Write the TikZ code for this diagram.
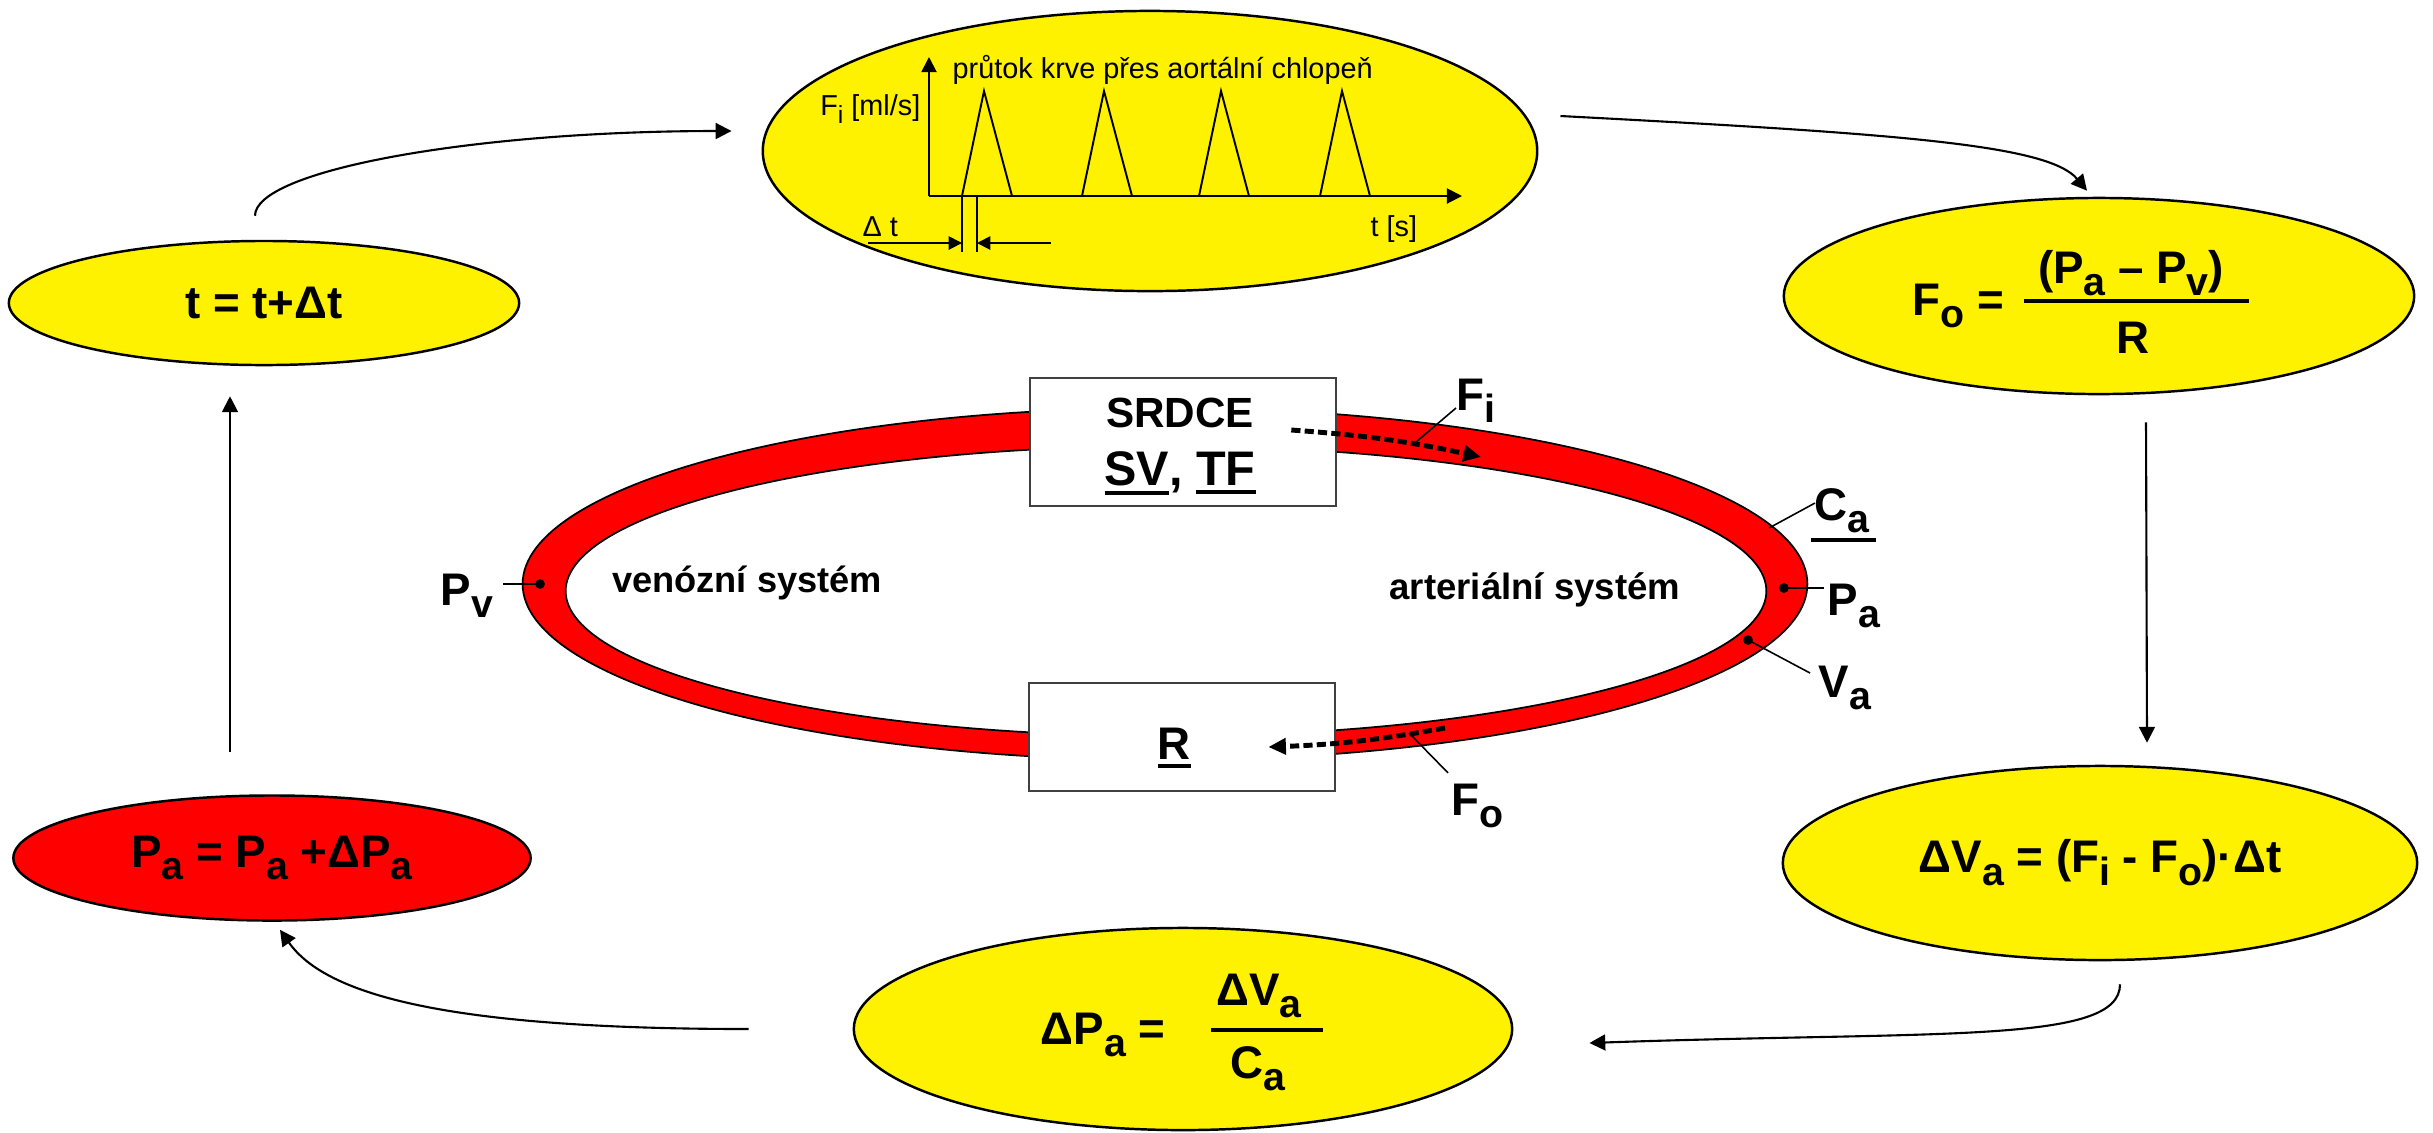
\documentclass[tikz,border=0pt]{standalone}
\usepackage{graphicx}
\usepackage{fontspec}
\setmainfont{Liberation Sans}
\usetikzlibrary{shapes.geometric,arrows.meta}

% dolni index a podtrzeni
\newcommand\sbx[1]{\raisebox{-0.28em}{\scalebox{0.86}{#1}}}
\newcommand\uln[1]{\vtop{\hbox{#1}\kern1.4pt\hrule height 1.1pt}}

\tikzset{
  bubble/.style={ellipse, draw, line width=0.7pt, fill=yellow, inner sep=0pt,
    font=\bfseries\fontsize{13}{15}\selectfont},
  hot/.style={bubble, fill=red},
  organ/.style={draw=black!75, line width=0.7pt, fill=white, inner sep=0pt},
  flow/.style={line width=0.6pt, -{Triangle[length=4.5pt,width=4.5pt]}},
  graphaxis/.style={line width=0.55pt, -{Triangle[length=4.3pt,width=4.3pt]}},
  stream/.style={line width=1.4pt, dash pattern=on 2.6pt off 1.2pt,
    -{Triangle[length=5pt,width=4.5pt]}},
  tag/.style={font=\bfseries\fontsize{13}{15}\selectfont, inner sep=0pt},
  plotfont/.style={font=\fontsize{8.2}{10}\selectfont, inner sep=0pt},
  fracrule/.style={line width=1pt},
  leader/.style={line width=0.45pt},
  probe/.style={circle, fill, inner sep=0pt, minimum size=2.8pt},
}

\begin{document}
\begin{tikzpicture}[x=0.01cm, y=0.01cm]
\useasboundingbox (0,0) rectangle (2433,-1132);

% vypocetni cyklus
\node[bubble, minimum width=5.1cm, minimum height=1.24cm] (tstep) at (264,-303) {t = t+Δt};
\node[bubble, minimum width=7.74cm, minimum height=2.8cm] (pulse) at (1150,-151) {};
\node[bubble, minimum width=6.3cm, minimum height=1.96cm] (outflow) at (2099,-296) {};
\node[bubble, minimum width=6.34cm, minimum height=1.94cm] (dvol) at (2100,-863)
  {ΔV\sbx{a} = (F\sbx{i} - F\sbx{o})·Δt};
\node[bubble, minimum width=6.58cm, minimum height=2.02cm] (dpress) at (1183,-1029) {};
\node[hot, minimum width=5.17cm, minimum height=1.25cm] (press) at (272,-858)
  {P\sbx{a} = P\sbx{a} +ΔP\sbx{a}};

% zlomky
\node[tag, anchor=base east] (folhs) at (2005,-315) {F\sbx{o} =};
\node[tag, anchor=base] (fonum) at (2131,-283) {(P\sbx{a} – P\sbx{v})};
\node[tag, anchor=base] (foden) at (2133,-353) {R};
\draw[fracrule] (2024,-301) -- (2249,-301);
\node[tag, anchor=base east] (dplhs) at (1166,-1044) {ΔP\sbx{a} =};
\node[tag, anchor=base] (dpnum) at (1259,-1005) {ΔV\sbx{a}};
\node[tag, anchor=base] (dpden) at (1258,-1078) {C\sbx{a}};
\draw[fracrule] (1211,-1030) -- (1323,-1030);

\draw[flow] ([shift={(-9,24)}]tstep.north) to[out=90, in=180, out distance=0.45cm, in distance=2.6cm] ([shift={(-30,20)}]pulse.west);
\draw[flow] ([shift={(22,35)}]pulse.east) to[out=-3, in=130, out distance=3.4cm, in distance=0.6cm] ([shift={(-12,6)}]outflow.north);
\draw[flow] ([shift={(47,-27)}]outflow.south) -- ([shift={(47,22)}]dvol.north);
\draw[flow] ([shift={(20,-23)}]dvol.south) to[out=-90, in=2, out distance=0.6cm, in distance=3.5cm] ([shift={(76,-14)}]dpress.east);
\draw[flow] ([shift={(-104,0)}]dpress.west) to[out=180, in=-55, out distance=3cm, in distance=0.8cm] ([shift={(8,-8)}]press.south);
\draw[flow] ([shift={(-42,42)}]press.north) -- ([shift={(-34,-30)}]tstep.south);

% graf v horni elipse
\coordinate (orig) at (929,-196);
\draw[graphaxis] (orig) -- (929,-57);
\draw[graphaxis] (orig) -- (1462,-196);
\foreach \x in {962,1082,1199,1320}
  \draw[line width=0.55pt] (\x,-196) -- (\x+22,-91) -- (\x+50,-196);
\draw[line width=0.55pt] (962,-196) -- (962,-252) (977,-196) -- (977,-252);
\draw[graphaxis, -{Triangle[length=3.8pt,width=3.8pt]}] (868,-243) -- (962,-243);
\draw[graphaxis, -{Triangle[length=3.8pt,width=3.8pt]}] (1051,-243) -- (977,-243);
\node[plotfont, anchor=base west] (title) at (952,-78) {průtok krve přes aortální chlopeň};
\node[plotfont, anchor=base east] (yunit) at (921,-115) {F\sbx{i} [ml/s]};
\node[plotfont, anchor=base west] (dtlbl) at (862,-236) {Δ t};
\node[plotfont, anchor=base west] (xunit) at (1370,-236) {t [s]};

% krevni obeh
\draw[fill=red, even odd rule, line width=0.5pt]
  (1165,-584) ellipse [x radius=6.42cm, y radius=1.76cm]
  (1166,-591) ellipse [x radius=6cm, y radius=1.45cm];
\node[organ, minimum width=3.06cm, minimum height=1.28cm] (heart) at (1183,-442) {};
\node[organ, minimum width=3.06cm, minimum height=1.08cm] (resist) at (1182,-737) {};
\node[tag, font=\bfseries\fontsize{12}{14}\selectfont] (heartname) at (1180,-413) {SRDCE};
\node[tag, font=\bfseries\fontsize{13.8}{16}\selectfont] (heartvars) at (1180,-473) {\uln{SV}, \uln{TF}};
\node[tag] (resistname) at (1174,-748) {\uln{R}};
\node[tag, font=\bfseries\fontsize{10.3}{12}\selectfont] (veins) at (747,-583) {venózní systém};
\node[tag, font=\bfseries\fontsize{10.4}{12}\selectfont] (arteries) at (1535,-590) {arteriální systém};

% proudy
\coordinate (fiend) at (1481,-457);
\coordinate (fostart) at (1445,-728);
\draw[stream] ([shift={(-46,12)}]heart.east) to[bend left=4] (fiend);
\draw[stream] (fostart) to[bend left=4] ([shift={(-68,-10)}]resist.east);

% popisky
\node[probe] (pv) at (540,-584) {};
\node[probe] (pa) at (1784,-588) {};
\node[probe] (va) at (1748,-640) {};
\node[tag, anchor=base west] (lpv) at (440,-605) {P\sbx{v}};
\node[tag, anchor=base west] (lpa) at (1827,-615) {P\sbx{a}};
\node[tag, anchor=base west] (lva) at (1818,-697) {V\sbx{a}};
\node[tag, anchor=base west] (lfi) at (1456,-410) {F\sbx{i}};
\node[tag, anchor=base west] (lfo) at (1451,-815) {F\sbx{o}};
\node[tag, anchor=base west] (lca) at (1810,-520) {\uln{\kern1pt C\sbx{a}\kern2pt}};
\coordinate (rfi) at (1416,-442);
\coordinate (rfo) at (1409,-733);
\coordinate (rca) at (1769,-528);
\draw[leader, shorten >=2.5pt] (pv.center) -- (pv.center -| lpv.east);
\draw[leader, shorten >=1pt] (pa.center) -- (pa.center -| lpa.west);
\draw[leader] (va.center) -- ([shift={(-8,24)}]lva.base west);
\draw[leader] ([yshift=0.02cm]lfi.base west) -- (rfi);
\draw[leader] ([shift={(-3,10)}]lfo.north west) -- (rfo);
\draw[leader] ([shift={(5,17)}]lca.base west) -- (rca);
\end{tikzpicture}
\end{document}
